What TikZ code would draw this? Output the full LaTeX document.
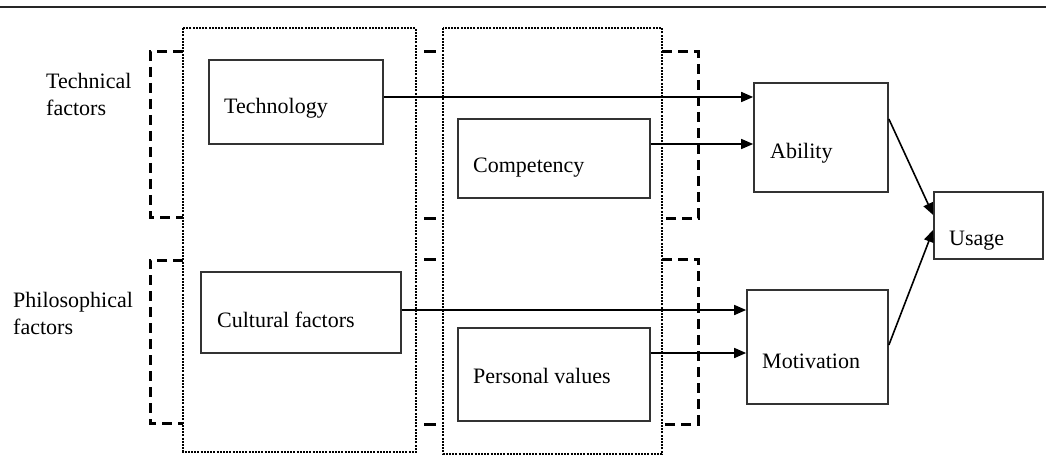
\documentclass[tikz,border=0pt]{standalone}
\usepackage{fontspec}
\setmainfont{Liberation Serif}
\usetikzlibrary{arrows.meta}

\begin{document}
\begin{tikzpicture}[x=1pt,y=-1pt,
	box/.style={draw=black!80,line width=1.7pt,inner sep=0pt},
	txt/.style={font=\fontsize{22}{27}\selectfont,inner sep=0pt,align=left},
	arr/.style={-{Triangle[length=12pt,width=10pt]},line width=1.6pt},
	grp/.style={line width=2.2pt,dash pattern=on 2pt off 1.2pt},
	brk/.style={line width=3pt,dash pattern=on 10pt off 6pt},
	]
	\useasboundingbox (0,0) rectangle (1046,457);
	\draw[line width=2.4pt,black!85] (0,7) -- (1046,7);

	\draw[grp] (183,28) rectangle (416,452);
	\draw[grp] (443,28) rectangle (662,454);

	\draw[brk] (183,52) -- (150,52) -- (150,217) -- (183,217);
	\draw[brk] (183,260) -- (150,260) -- (150,423) -- (183,423);
	\draw[brk] (662,52) -- (698,52) -- (698,218) -- (662,218);
	\draw[brk] (662,259) -- (698,259) -- (698,424) -- (662,424);
	\draw[line width=3pt] (424,52) -- (436,52);
	\draw[line width=3pt] (424,218) -- (436,218);
	\draw[line width=3pt] (424,259) -- (436,259);
	\draw[line width=3pt] (424,424) -- (436,424);

	\node[txt,anchor=west] (techf) at (46,94) {Technical\\factors};
	\node[txt,anchor=west] (philf) at (13,313) {Philosophical\\factors};

	\node[box,minimum width=174pt,minimum height=84pt] (tech) at (296,102) {};
	\node[box,minimum width=192pt,minimum height=79pt] (comp) at (554,158.5) {};
	\node[box,minimum width=200pt,minimum height=81pt] (cult) at (301,312.5) {};
	\node[box,minimum width=192pt,minimum height=93pt] (pers) at (554,374.5) {};
	\node[box,minimum width=134pt,minimum height=109pt] (abil) at (821,137.5) {};
	\node[box,minimum width=141pt,minimum height=114pt] (motiv) at (817.5,347) {};
	\node[box,minimum width=109pt,minimum height=67pt] (usage) at (988.5,225.5) {};

	\node[txt,anchor=base west] (techt) at (224,114) {Technology};
	\node[txt,anchor=base west] (compt) at (473,173) {Competency};
	\node[txt,anchor=base west] (cultt) at (217,327) {Cultural factors};
	\node[txt,anchor=base west] (perst) at (473,383) {Personal values};
	\node[txt,anchor=base west] (abilt) at (770,159) {Ability};
	\node[txt,anchor=base west] (motivt) at (762,368) {Motivation};
	\node[txt,anchor=base west] (usaget) at (949,245) {Usage};

	\draw[arr] ([yshift=5pt]tech.east) -- ([yshift=5pt]tech.east -| abil.west);
	\draw[arr] ([yshift=14.5pt]comp.east) -- ([yshift=14.5pt]comp.east -| abil.west);
	\draw[arr] ([yshift=2.5pt]cult.east) -- ([yshift=2.5pt]cult.east -| motiv.west);
	\draw[arr] ([yshift=21.5pt]pers.east) -- ([yshift=21.5pt]pers.east -| motiv.west);
	\draw[arr] ([yshift=18.5pt]abil.east) -- ([yshift=10.5pt]usage.west);
	\draw[arr] ([yshift=2pt]motiv.east) -- ([yshift=-4.5pt]usage.west);
\end{tikzpicture}
\end{document}
